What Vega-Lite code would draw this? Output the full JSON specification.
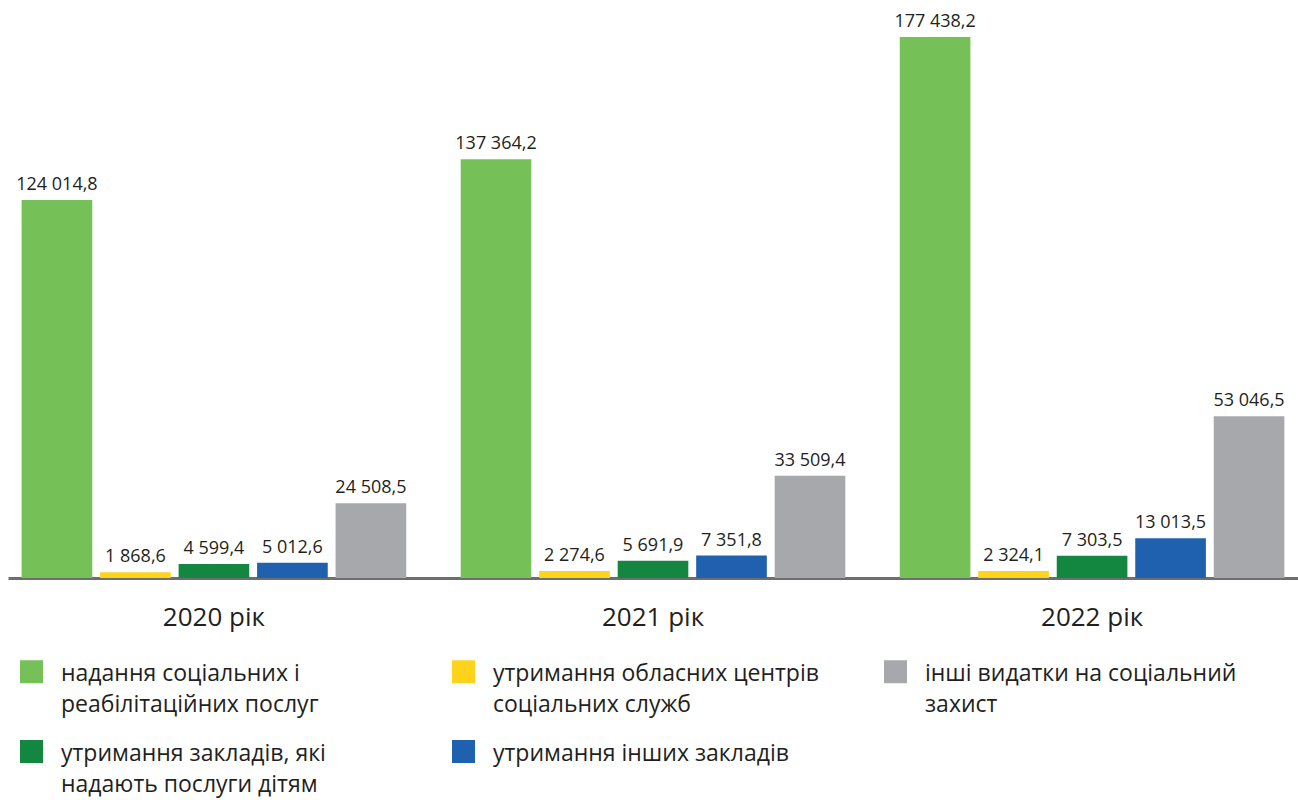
{
  "$schema": "https://vega.github.io/schema/vega-lite/v6.json",
  "width": 1290,
  "height": 578,
  "autosize": {"type": "none"},
  "padding": {"left": 8, "top": 0, "right": 0, "bottom": 222},
  "background": "white",
  "config": {
    "font": "Open Sans",
    "view": {"stroke": null},
    "locale": {"number": {"decimal": ",", "thousands": " ", "grouping": [3], "currency": ["", ""]}},
    "style": {"guide-label": {"lineHeight": 31, "dy": -9}}
  },
  "data": {
    "values": [
      {"year": "2020 рік", "series": "надання соціальних і\nреабілітаційних послуг", "value": 124014.8},
      {"year": "2020 рік", "series": "утримання обласних центрів\nсоціальних служб", "value": 1868.6},
      {"year": "2020 рік", "series": "утримання закладів, які\nнадають послуги дітям", "value": 4599.4},
      {"year": "2020 рік", "series": "утримання інших закладів", "value": 5012.6},
      {"year": "2020 рік", "series": "інші видатки на соціальний\nзахист", "value": 24508.5},
      {"year": "2021 рік", "series": "надання соціальних і\nреабілітаційних послуг", "value": 137364.2},
      {"year": "2021 рік", "series": "утримання обласних центрів\nсоціальних служб", "value": 2274.6},
      {"year": "2021 рік", "series": "утримання закладів, які\nнадають послуги дітям", "value": 5691.9},
      {"year": "2021 рік", "series": "утримання інших закладів", "value": 7351.8},
      {"year": "2021 рік", "series": "інші видатки на соціальний\nзахист", "value": 33509.4},
      {"year": "2022 рік", "series": "надання соціальних і\nреабілітаційних послуг", "value": 177438.2},
      {"year": "2022 рік", "series": "утримання обласних центрів\nсоціальних служб", "value": 2324.1},
      {"year": "2022 рік", "series": "утримання закладів, які\nнадають послуги дітям", "value": 7303.5},
      {"year": "2022 рік", "series": "утримання інших закладів", "value": 13013.5},
      {"year": "2022 рік", "series": "інші видатки на соціальний\nзахист", "value": 53046.5}
    ]
  },
  "encoding": {
    "x": {
      "field": "year", "type": "nominal", "sort": null,
      "scale": {"paddingInner": 0.124, "paddingOuter": 0.031},
      "axis": {
        "title": null, "labelAngle": 0, "ticks": false, "labelPadding": 48,
        "labelFontSize": 26, "labelColor": "#231f20", "labelBaseline": "middle",
        "domainColor": "#6d6e70", "domainWidth": 3, "grid": false
      }
    },
    "xOffset": {
      "field": "series", "type": "nominal",
      "sort": [
        "надання соціальних і\nреабілітаційних послуг",
        "утримання обласних центрів\nсоціальних служб",
        "утримання закладів, які\nнадають послуги дітям",
        "утримання інших закладів",
        "інші видатки на соціальний\nзахист"
      ],
      "scale": {"paddingInner": 0.1, "paddingOuter": 0}
    },
    "y": {
      "field": "value", "type": "quantitative",
      "scale": {"domain": [0, 189600], "nice": false, "zero": true},
      "axis": null
    }
  },
  "layer": [
    {
      "mark": {"type": "bar"},
      "encoding": {
        "color": {
          "field": "series", "type": "nominal",
          "scale": {
            "domain": [
              "надання соціальних і\nреабілітаційних послуг",
              "утримання обласних центрів\nсоціальних служб",
              "інші видатки на соціальний\nзахист",
              "утримання закладів, які\nнадають послуги дітям",
              "утримання інших закладів"
            ],
            "range": ["#75c158", "#fdd31c", "#a7a8ab", "#13873f", "#1f60af"]
          },
          "legend": {
            "title": null,
            "orient": "none",
            "legendX": 12,
            "legendY": 660,
            "direction": "horizontal",
            "columns": 3,
            "gridAlign": "all",
            "columnPadding": 65,
            "rowPadding": 23,
            "symbolType": "square",
            "symbolSize": 529,
            "symbolStrokeWidth": 0,
            "symbolOpacity": 1,
            "labelFontSize": 23,
            "labelColor": "#231f20",
            "labelOffset": 18,
            "labelLimit": 500,
            "labelBaseline": "top",
            "labelExpr": "split(datum.label, '\\n')"
          }
        }
      }
    },
    {
      "mark": {"type": "text", "baseline": "bottom", "dy": -6, "fontSize": 18, "color": "#231f20"},
      "encoding": {
        "text": {"field": "value", "type": "quantitative", "format": ",.1f"}
      }
    }
  ]
}
